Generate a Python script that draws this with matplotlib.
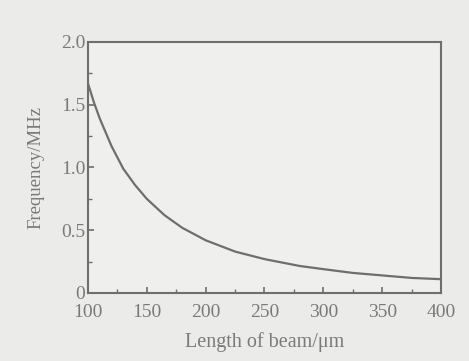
import matplotlib
matplotlib.use('Agg')
import matplotlib.pyplot as plt
from matplotlib.ticker import MultipleLocator

# Значения
length_um = [100, 105, 110, 120, 130, 140, 150, 165, 180, 200, 225, 250, 280, 300, 325, 350, 375, 400]
freq_mhz = [1.67, 1.52, 1.39, 1.17, 0.99, 0.86, 0.75, 0.62, 0.52, 0.42, 0.33, 0.27, 0.215, 0.19, 0.16, 0.14, 0.12, 0.11]

xticks = [100, 150, 200, 250, 300, 350, 400]
yticks = [0, 0.5, 1.0, 1.5, 2.0]
ytick_labels = ['0', '0.5', '1.0', '1.5', '2.0']

plt.rcParams['font.family'] = ['Liberation Serif', 'DejaVu Serif']

bg = '#ebebea'
gray = '#6e6e6e'
txt = '#7a7a7a'

fig = plt.figure(figsize=(4.69, 3.61), dpi=100, facecolor=bg)
ax = fig.add_axes([0.1876, 0.1884, 0.7527, 0.6953])
ax.set_facecolor('#efefee')

ax.plot(length_um, freq_mhz, color=gray, lw=1.6)

ax.set_xlim(100, 400)
ax.set_ylim(0, 2.0)
ax.set_xticks(xticks)
ax.set_yticks(yticks)
ax.set_yticklabels(ytick_labels)
ax.xaxis.set_minor_locator(MultipleLocator(25))
ax.yaxis.set_minor_locator(MultipleLocator(0.25))
ax.tick_params(which='both', direction='in', colors=gray, labelcolor=txt,
               labelsize=14, top=False, right=False)
ax.tick_params(which='major', length=4, width=1.2)
ax.tick_params(axis='x', which='major', pad=8)
ax.tick_params(axis='y', which='major', pad=2)
ax.tick_params(which='minor', length=3, width=1.0)
for s in ax.spines.values():
    s.set_color(gray)
    s.set_linewidth(1.5)

ax.set_xlabel('Length of beam/\u03bcm', fontsize=14.5, color=txt, labelpad=8)
ax.set_ylabel('Frequency/MHz', fontsize=13.5, color=txt, labelpad=12)

fig.savefig('out.png', dpi=100, facecolor=bg)
